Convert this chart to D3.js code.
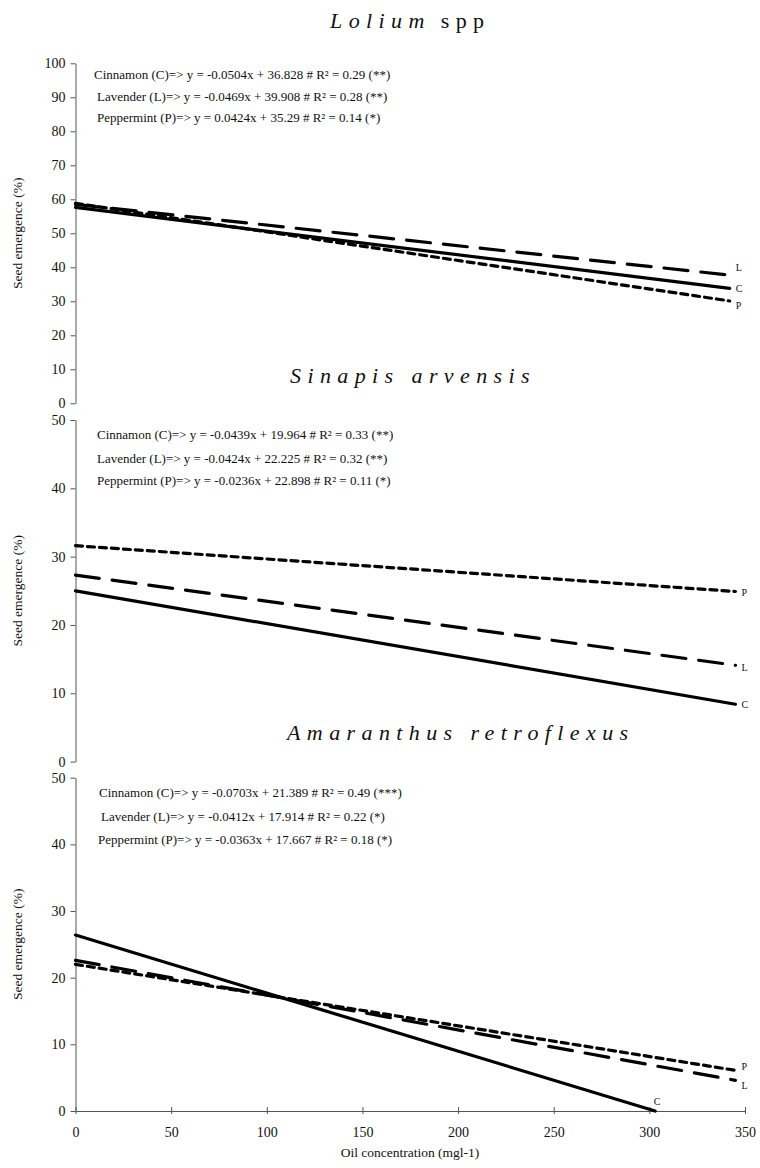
<!DOCTYPE html>
<html>
<head>
<meta charset="utf-8">
<script src="https://cdn.jsdelivr.net/npm/d3@7"></script>
<style>
  body { margin: 0; background: #fff; }
  svg text { font-family: "Liberation Serif", "Times New Roman", serif; fill: #111; }
</style>
</head>
<body>
<div class="Graph"></div>
<script>
// ---- data ----
var xTicks = [0, 50, 100, 150, 200, 250, 300, 350];
var titleItalic = ["Lolium", "Sinapis arvensis", "Amaranthus retroflexus"];
var titleRoman = [" spp", "", ""];
var yMax = [100, 50, 50];
var yStep = [10, 10, 10];

var eqCinnamon = [
    "Cinnamon (C)=> y = -0.0504x + 36.828 # R² = 0.29 (**)",
    "Cinnamon (C)=> y = -0.0439x + 19.964 # R² = 0.33 (**)",
    "Cinnamon (C)=> y = -0.0703x + 21.389 # R² = 0.49 (***)"
];
var eqLavender = [
    "Lavender (L)=> y = -0.0469x + 39.908 # R² = 0.28 (**)",
    "Lavender (L)=> y = -0.0424x + 22.225 # R² = 0.32 (**)",
    "Lavender (L)=> y = -0.0412x + 17.914 # R² = 0.22 (*)"
];
var eqPeppermint = [
    "Peppermint (P)=> y = 0.0424x + 35.29 # R² = 0.14 (*)",
    "Peppermint (P)=> y = -0.0236x + 22.898 # R² = 0.11 (*)",
    "Peppermint (P)=> y = -0.0363x + 17.667 # R² = 0.18 (*)"
];

// fitted lines: [start value at x=0, end value, end x]
var cinnamonY0 = [57.6, 25.0, 26.4];
var cinnamonY1 = [33.8, 8.4, 0];
var cinnamonX1 = [342, 345, 303];
var lavenderY0 = [58.5, 27.3, 22.6];
var lavenderY1 = [37.7, 14.1, 4.6];
var lavenderX1 = [342, 345, 345];
var peppermintY0 = [58.8, 31.6, 22.0];
var peppermintY1 = [30.1, 24.9, 6.1];
var peppermintX1 = [342, 345, 345];

// ---- layout ----
var W = 760, H = 1168;
var panelTop = [63.3, 420, 777.7];
var panelBottom = [403.3, 761.6, 1111];
var titleY = [28, 383, 740];
var titleX = [330, 290, 287];
var eqX = [[94, 97, 97], [97, 97, 97], [99, 101, 98]];
var eqY = [[79, 101, 122], [439, 463, 485], [797, 821, 844]];

var svg = d3.select(".Graph").append("svg")
    .attr("width", W)
    .attr("height", H);

var x = d3.scaleLinear().domain([0, 350]).range([75.5, 745]);

var series = [
    { key: "C", y0: cinnamonY0, y1: cinnamonY1, x1: cinnamonX1, dash: null },
    { key: "L", y0: lavenderY0, y1: lavenderY1, x1: lavenderX1, dash: "24,13" },
    { key: "P", y0: peppermintY0, y1: peppermintY1, x1: peppermintX1, dash: "7,5" }
];

for (var p = 0; p < 3; p++) {
    var y = d3.scaleLinear().domain([0, yMax[p]]).range([panelBottom[p], panelTop[p]]);
    var g = svg.append("g");

    // y axis
    var yAxis = g.append("g")
        .attr("transform", "translate(" + x(0) + ",0)")
        .call(d3.axisLeft(y).tickValues(d3.range(0, yMax[p] + 1, yStep[p])).tickSize(5).tickPadding(5).tickSizeOuter(0));
    yAxis.selectAll("path,line").attr("stroke", "#555");
    yAxis.selectAll("text").style("font-size", "14px").style("font-family", "Liberation Serif");

    // x axis only on the last panel
    if (p == 2) {
        var xAxis = g.append("g")
            .attr("transform", "translate(0," + panelBottom[p] + ")")
            .call(d3.axisBottom(x).tickValues(xTicks).tickSize(4).tickPadding(12).tickSizeOuter(0));
        xAxis.selectAll("path").attr("stroke", "#555");
        xAxis.selectAll("line").attr("stroke", "#555").attr("y1", -4).attr("y2", 3);
        xAxis.selectAll("text").style("font-size", "14px").style("font-family", "Liberation Serif");
    }

    // y axis title
    g.append("text")
        .attr("transform", "translate(22," + ((panelTop[p] + panelBottom[p]) / 2) + ") rotate(-90)")
        .attr("text-anchor", "middle")
        .style("font-size", "13.5px")
        .text("Seed emergence (%)");

    // species title
    var t = g.append("text")
        .attr("x", titleX[p])
        .attr("y", titleY[p])
        .style("font-size", "22px")
        .style("letter-spacing", "6.4px");
    t.append("tspan").style("font-style", "italic").text(titleItalic[p]);
    if (titleRoman[p]) t.append("tspan").attr("dx", 10).text(titleRoman[p].trim());

    // equations
    var eqs = [eqCinnamon[p], eqLavender[p], eqPeppermint[p]];
    g.selectAll(".eq")
        .data(eqs)
        .enter()
        .append("text")
        .attr("x", (d, i) => eqX[p][i])
        .attr("y", (d, i) => eqY[p][i])
        .style("font-size", "13px")
        .text(d => d);

    // fitted lines + end labels
    series.forEach(function (s) {
        var ln = g.append("line")
            .attr("x1", x(0))
            .attr("y1", y(s.y0[p]))
            .attr("x2", x(s.x1[p]))
            .attr("y2", y(s.y1[p]))
            .attr("stroke", "#000")
            .attr("stroke-width", 3.2)
            .attr("stroke-linecap", "round");
        if (s.dash) ln.attr("stroke-dasharray", s.dash);

        var lx = x(s.x1[p]) + 6, ly = y(s.y1[p]) + 4, anchor = "start";
        if (p == 0 && s.key == "L") ly -= 8;
        if (p == 0 && s.key == "P") ly += 4;
        if (p == 1 && s.key == "P") ly += 1;
        if (p == 1 && s.key == "L") ly += 2;
        if (p == 2 && s.key == "C") { lx = x(s.x1[p]) + 2; ly = y(s.y1[p]) - 6; anchor = "middle"; }
        if (p == 2 && s.key == "P") ly -= 4;
        if (p == 2 && s.key == "L") ly += 5;
        g.append("text")
            .attr("x", lx)
            .attr("y", ly)
            .attr("text-anchor", anchor)
            .style("font-size", "10px")
            .text(s.key);
    });
}

// x axis title
svg.append("text")
    .attr("x", 410)
    .attr("y", 1157)
    .attr("text-anchor", "middle")
    .style("font-size", "13.5px")
    .text("Oil concentration (mgl-1)");
</script>
</body>
</html>
